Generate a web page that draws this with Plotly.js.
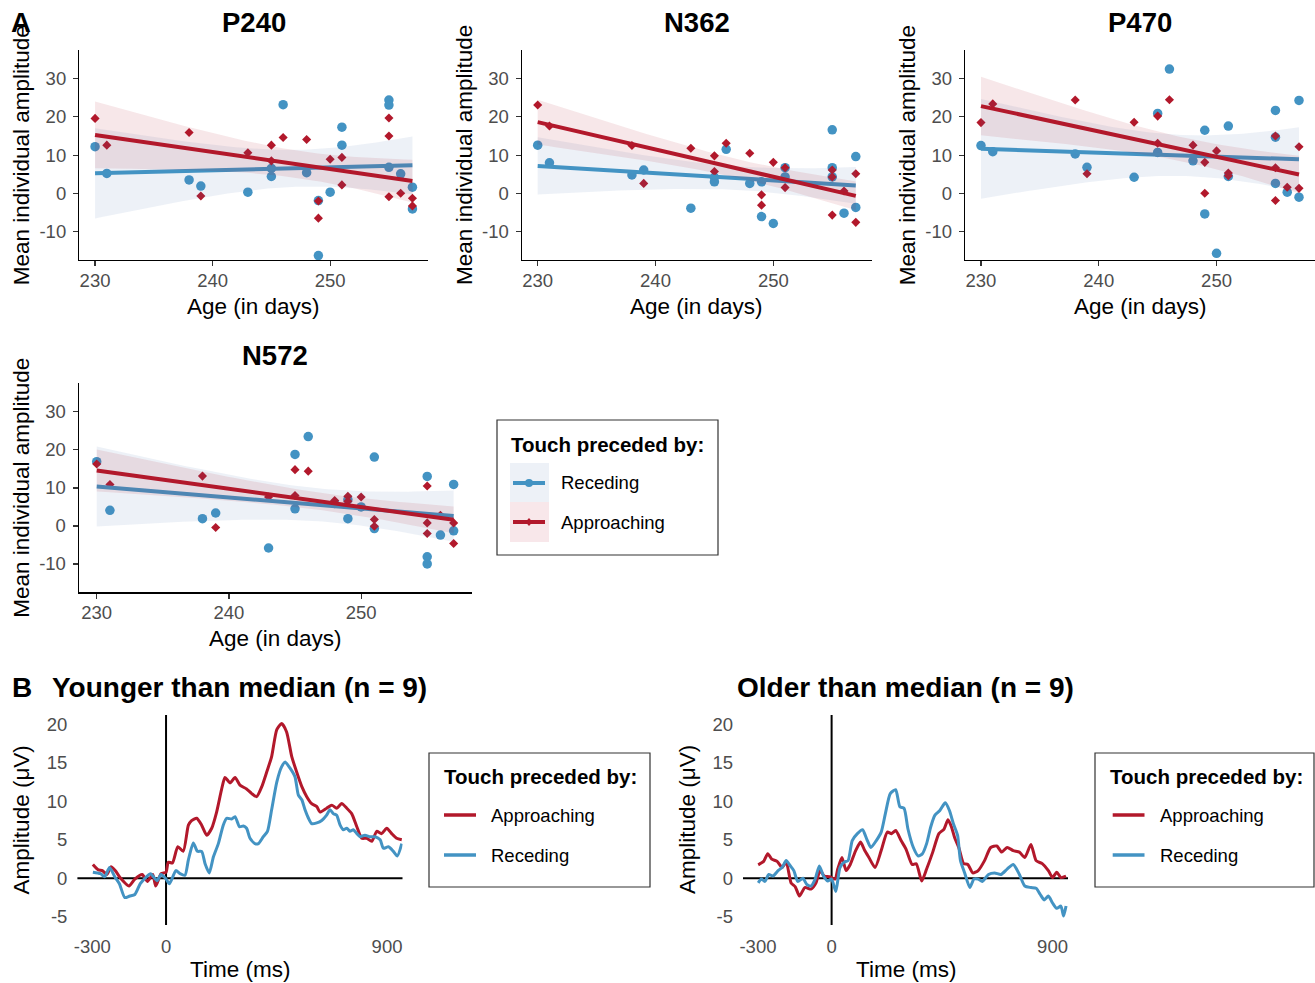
<!DOCTYPE html>
<html><head><meta charset="utf-8">
<script src="https://cdn.plot.ly/plotly-3.0.1.min.js"></script>
<style>html,body{margin:0;padding:0;background:#fff}#chart{width:1315px;height:983px}</style>
</head><body><div id="chart"></div>
<script>
// ---------------- DATA ----------------
const ages = [230,231,238,239,243,245,245,246,248,249,249,250,251,251,255,255,255,256,257,257];
const components = ['P240','N362','P470','N572'];

const p240Receding   = [12.2,5.2,3.5,1.9,0.3,6.5,4.4,23.2,5.4,-1.9,-16.3,0.3,17.3,12.6,24.4,23.1,6.8,5.1,1.6,-4.1];
const p240Approaching= [19.6,12.6,15.9,-0.7,10.6,12.6,8.5,14.6,14.1,-2.0,-6.5,8.9,9.4,2.2,19.7,15.0,-0.9,0.0,-1.3,-3.3];

const n362Receding   = [12.6,8.0,4.8,6.1,-3.9,4.2,3.0,11.5,2.6,3.0,-6.1,-7.9,6.7,4.3,16.6,6.7,4.3,-5.2,9.6,-3.7];
const n362Approaching= [23.1,17.6,12.5,2.6,11.8,9.8,5.7,13.1,10.5,-0.4,-3.1,8.1,6.7,1.5,6.1,4.3,-5.7,0.6,5.1,-7.6];

const p470Receding   = [12.5,10.9,10.3,6.8,4.2,20.9,10.7,32.5,8.5,16.5,-5.4,-15.7,17.6,4.4,21.7,14.7,2.6,0.3,24.3,-1.0];
const p470Approaching= [18.5,23.4,24.4,5.1,18.6,20.2,13.1,24.5,12.6,8.1,0.0,11.1,5.3,4.6,15.0,6.7,-1.9,1.6,12.2,1.3];

const n572Receding   = [16.9,4.1,1.9,3.4,-5.8,18.8,4.5,23.5,5.9,6.9,1.9,5.0,18.1,-0.7,13.0,-8.1,-10.0,-2.4,10.9,-1.3];
const n572Approaching= [16.3,10.9,13.1,-0.4,7.6,14.8,8.0,14.4,6.7,7.8,6.5,7.6,1.7,-0.1,10.5,0.8,-2.0,2.8,0.8,-4.6];

const ageTicks = [230,240,250];
const ageTickText = ['230','240','250'];
const ampTicks = [-10,0,10,20,30];
const ampTickText = ['-10','0','10','20','30'];

// ERP waveforms (panel B)
const youngApprT = [-298,-276,-259,-241,-224,-207,-182,-151,-127,-97,-76,-54,-42,-20,0,9,26,48,70,91,104,125,145,166,186,206,226,240,261,281,301,328,349,369,390,410,430,451,471,491,512,532,553,573,593,614,627,654,675,695,715,736,756,777,797,817,838,858,878,899,919,939,960];
const youngApprV = [1.8,1.1,1.0,0.5,1.5,1.0,-0.1,-1.0,-0.1,0.5,-0.4,0.5,-1.0,0.6,0.8,2.1,2.0,4.1,3.5,6.9,7.5,7.8,6.9,5.6,6.5,8.6,11.5,13.1,12.4,13.1,12.1,11.6,11.0,10.6,11.9,13.8,15.8,19.3,20.1,19.0,15.8,13.8,11.9,10.6,9.7,9.3,8.6,9.1,9.5,9.1,9.7,9.1,8.4,6.7,5.2,5.2,4.8,6.1,5.8,6.5,5.8,5.2,5.0];
const youngRecT  = [-298,-267,-250,-230,-207,-190,-168,-148,-127,-105,-80,-63,-37,-20,0,14,40,57,77,91,111,128,145,159,176,193,213,233,247,267,281,299,315,328,342,362,376,396,413,430,451,471,485,505,525,539,553,566,580,593,614,634,654,668,681,695,709,722,736,749,763,777,790,810,831,851,872,885,906,926,942,960];
const youngRecV  = [0.8,0.6,0.2,1.4,0.1,-0.7,-2.5,-2.3,-2.1,-0.7,0.2,0.6,-0.3,0.5,-0.1,-0.7,1.0,0.6,0.4,2.4,4.6,3.5,3.5,1.9,0.7,2.8,4.5,6.9,7.8,7.7,8.0,6.7,6.8,6.5,5.2,4.5,4.5,5.4,6.1,8.9,12.5,14.5,15.1,14.3,13.2,10.8,10.2,8.9,7.8,7.1,7.2,7.5,8.2,8.9,8.4,8.2,6.9,6.3,6.5,6.1,6.3,5.8,5.4,5.6,5.4,5.4,5.0,3.9,4.1,3.5,2.9,4.5];
const oldApprT   = [-299,-277,-260,-244,-222,-202,-185,-165,-148,-131,-109,-84,-64,-47,-30,-8,14,25,42,59,76,98,118,135,152,177,202,227,244,261,283,303,328,345,367,387,412,437,458,474,488,501,518,538,555,575,597,623,648,673,693,715,740,765,787,812,833,858,883,900,917,934,955];
const oldApprV   = [1.75,2.2,3.2,2.5,2.2,1.4,2.1,-0.6,-1.1,-2.3,-1.2,-1.4,-0.6,1.0,0.3,0.2,-0.1,1.2,2.7,1.0,1.8,3.6,4.7,3.6,2.7,1.4,3.6,6.0,5.8,6.2,4.9,3.8,1.8,1.9,-0.35,1.2,3.4,5.8,6.4,7.6,6.7,5.3,4.0,1.9,1.8,0.7,1.0,2.3,4.0,4.2,3.4,4.0,3.6,3.4,2.7,4.4,2.3,1.9,1.0,0.1,0.8,0.1,0.3];
const oldRecT    = [-299,-286,-272,-256,-239,-218,-202,-185,-168,-154,-138,-117,-101,-84,-67,-50,-33,-16,0,17,34,51,67,84,105,126,143,160,182,202,219,239,261,278,295,311,333,353,370,387,404,421,441,463,480,496,513,525,542,563,580,597,614,639,664,690,715,740,765,787,812,833,850,866,883,900,917,934,945,955];
const oldRecV    = [-0.6,-0.1,-0.4,0.5,0.3,1.0,1.4,2.3,1.6,1.0,-0.4,0,-0.8,-1.0,-0.1,1.6,0.3,-0.35,-0.1,-1.7,1.4,2.1,2.3,4.9,5.8,6.3,5.1,4.0,4.9,6.0,8.4,11.0,11.5,9.3,9.1,6.4,4.0,2.9,3.2,4.5,6.7,8.2,8.8,9.8,8.8,7.1,5.6,2.3,0.7,-1.2,-0.1,-0.1,-0.4,0.5,0.7,0.5,1.2,1.8,0.5,-1.0,-1.2,-1.3,-2.1,-2.8,-2.3,-3.2,-3.9,-3.6,-4.9,-3.6];

const timeTicks = [-300,0,900];
const timeTickText = ['-300','0','900'];
const uvTicks = [-5,0,5,10,15,20];
const uvTickText = ['-5','0','5','10','15','20'];

// ---------------- STYLE ----------------
const W = 1315, H = 983;
const FONT = 'Liberation Sans, Arial, Helvetica, sans-serif';
const RED = '#b2182b', BLUE = '#4393c3';
const RIB_BLUE = 'rgba(75,115,175,0.10)', RIB_RED = 'rgba(178,24,43,0.10)';
const fx = p => p / W, fy = p => 1 - p / H;

// linear fit with 95% confidence band (as geom_smooth(method = "lm"))
const T975_DF18 = 2.100922;
function lmBand(x, y) {
  const n = x.length;
  const mx = x.reduce((a,b)=>a+b,0)/n, my = y.reduce((a,b)=>a+b,0)/n;
  let sxx=0, sxy=0;
  for (let i=0;i<n;i++){ sxx+=(x[i]-mx)**2; sxy+=(x[i]-mx)*(y[i]-my); }
  const b = sxy/sxx, a = my - b*mx;
  let sse=0; for (let i=0;i<n;i++){ sse+=(y[i]-a-b*x[i])**2; }
  const s = Math.sqrt(sse/(n-2));
  const lo = Math.min(...x), hi = Math.max(...x);
  const xs=[], fit=[], up=[], dn=[];
  for (let k=0;k<80;k++){
    const xv = lo + (hi-lo)*k/79;
    const f = a + b*xv;
    const se = s*Math.sqrt(1/n + (xv-mx)**2/sxx);
    xs.push(xv); fit.push(f); up.push(f+T975_DF18*se); dn.push(f-T975_DF18*se);
  }
  return {xs, fit, up, dn};
}

const panelData = [
  [p240Receding, p240Approaching],
  [n362Receding, n362Approaching],
  [p470Receding, p470Approaching],
  [n572Receding, n572Approaching]
];
// panel boxes in pixels: [left, right, top, bottom]
const boxesA = [[79.3,428.3,50,260],[521.9,871.7,50,260],[965.2,1314.9,50,260],[79,471.5,383.3,592.3]];
const ageRange = [228.66, 258.35], ampRange = [-17.45, 37.5];

const traces = [];
const layout = {
  width: W, height: H, autosize: false,
  margin: {l:0, r:0, t:0, b:0},
  paper_bgcolor: '#fff', plot_bgcolor: 'rgba(0,0,0,0)',
  showlegend: false,
  font: {family: FONT, color: '#000'},
  annotations: [], shapes: []
};

function ann(text, x, y, size, opts) {
  layout.annotations.push(Object.assign({
    text, x: fx(x), y: fy(y), xref: 'paper', yref: 'paper', showarrow: false,
    xanchor: 'center', yanchor: 'middle', font: {family: FONT, size, color: '#000'}
  }, opts || {}));
}

panelData.forEach((pair, i) => {
  const k = i + 1, xa = 'x' + (k === 1 ? '' : k), ya = 'y' + (k === 1 ? '' : k);
  const [rec, appr] = pair;
  traces.push({type:'scatter', mode:'markers', x: ages, y: rec, xaxis: xa, yaxis: ya,
    marker:{symbol:'circle', size:9.5, color:BLUE}, hoverinfo:'skip'});
  traces.push({type:'scatter', mode:'markers', x: ages, y: appr, xaxis: xa, yaxis: ya,
    marker:{symbol:'diamond', size:7, color:RED}, hoverinfo:'skip'});
  [[rec, BLUE, RIB_BLUE], [appr, RED, RIB_RED]].forEach(([vals, col, rib]) => {
    const m = lmBand(ages, vals);
    traces.push({type:'scatter', mode:'lines', xaxis: xa, yaxis: ya,
      x: m.xs.concat(m.xs.slice().reverse()), y: m.up.concat(m.dn.slice().reverse()),
      fill:'toself', fillcolor: rib, line:{width:0, color:'rgba(0,0,0,0)'}, hoverinfo:'skip'});
    traces.push({type:'scatter', mode:'lines', xaxis: xa, yaxis: ya, x: m.xs, y: m.fit,
      line:{color: col, width: 4}, hoverinfo:'skip'});
  });
  const [l, r, t, b] = boxesA[i];
  const common = {showgrid:false, zeroline:false, showline:true, linecolor:'#000', linewidth:1.4,
    ticks:'outside', ticklen:5, tickwidth:1.2, tickcolor:'#333', fixedrange:true,
    tickfont:{family:FONT, size:18.5, color:'#4d4d4d'}};
  layout['xaxis' + (k===1?'':k)] = Object.assign({}, common, {domain:[fx(l), fx(r)], range: ageRange,
    tickmode:'array', tickvals: ageTicks, ticktext: ageTickText, anchor: ya, ticklabelstandoff: -2});
  layout['yaxis' + (k===1?'':k)] = Object.assign({}, common, {domain:[fy(b), fy(t)], range: ampRange,
    tickmode:'array', tickvals: ampTicks, ticktext: ampTickText, anchor: xa, ticklabelstandoff: 3});
  const cx = (l + r) / 2;
  ann('<b>' + components[i] + '</b>', cx, t - 28, 27.5);
  ann('Age (in days)', cx, b + 46, 22.5);
  ann('Mean individual amplitude', l - 57, (t + b) / 2, 22.5, {textangle: -90});
});
ann('<b>A</b>', 21, 22, 27.5);

// ---- Panel B ----
const boxesB = [[77.4,402.5,715,925],[743,1068,715,925]];
const timeRange = [-361, 963], uvRange = [-6.06, 21.2];
const erps = [
  [[youngApprT, youngApprV], [youngRecT, youngRecV]],
  [[oldApprT, oldApprV], [oldRecT, oldRecV]]
];
const bTitles = ['Younger than median (n = 9)', 'Older than median (n = 9)'];
erps.forEach((pair, j) => {
  const k = 5 + j, xa = 'x' + k, ya = 'y' + k;
  const [l, r, t, b] = boxesB[j];
  layout.shapes.push({type:'line', xref: xa + ' domain', yref: ya, x0:0, x1:1, y0:0, y1:0,
    line:{color:'#000', width:2}, layer:'below'});
  layout.shapes.push({type:'line', xref: xa, yref: ya + ' domain', x0:0, x1:0, y0:0, y1:1,
    line:{color:'#000', width:2}, layer:'below'});
  [[pair[0], RED], [pair[1], BLUE]].forEach(([d, col]) => {
    traces.push({type:'scatter', mode:'lines', x: d[0], y: d[1], xaxis: xa, yaxis: ya,
      line:{color: col, width: 3, shape:'spline', smoothing:0.6}, hoverinfo:'skip'});
  });
  const common = {showgrid:false, zeroline:false, showline:false, ticks:'', fixedrange:true,
    tickfont:{family:FONT, size:18.5, color:'#4d4d4d'}};
  layout['xaxis' + k] = Object.assign({}, common, {domain:[fx(l), fx(r)], range: timeRange,
    tickmode:'array', tickvals: timeTicks, ticktext: timeTickText, anchor: ya, ticklabelstandoff: 8});
  layout['yaxis' + k] = Object.assign({}, common, {domain:[fy(b), fy(t)], range: uvRange,
    tickmode:'array', tickvals: uvTicks, ticktext: uvTickText, anchor: xa, ticklabelstandoff: 9});
  const cx = (l + r) / 2;
  ann('<b>' + bTitles[j] + '</b>', cx, 687, 28);
  ann('Time (ms)', cx, 969, 22.5);
  ann('Amplitude (μV)', l - 56, (t + b) / 2, 22.5, {textangle: -90});
});
ann('<b>B</b>', 22, 687, 28);

// ---- Legends (drawn manually) ----
function rect(x0, y0, x1, y1, fill, lineCol, lw) {
  layout.shapes.push({type:'rect', xref:'paper', yref:'paper', x0:fx(x0), x1:fx(x1), y0:fy(y0), y1:fy(y1),
    fillcolor: fill, line:{color: lineCol || 'rgba(0,0,0,0)', width: lw || 0}, layer:'above'});
}
function seg(x0, x1, y, col, w) {
  layout.shapes.push({type:'line', xref:'paper', yref:'paper', x0:fx(x0), x1:fx(x1), y0:fy(y), y1:fy(y),
    line:{color: col, width: w}, layer:'above'});
}
// Legend A
rect(497, 420, 718, 555, '#fff', '#333', 1.2);
rect(510, 463, 549, 502, 'rgb(237,241,247)');
rect(510, 502, 549, 542, 'rgb(248,231,234)');
seg(513, 545, 483, BLUE, 4);
layout.shapes.push({type:'circle', xref:'paper', yref:'paper', x0:fx(525), x1:fx(533), y0:fy(487), y1:fy(479),
  fillcolor: BLUE, line:{width:0}, layer:'above'});
seg(513, 545, 522, RED, 4);
layout.shapes.push({type:'path', xref:'paper', yref:'paper',
  path: 'M ' + fx(529) + ',' + fy(518) + ' L ' + fx(532.5) + ',' + fy(522) + ' L ' + fx(529) + ',' + fy(526) + ' L ' + fx(525.5) + ',' + fy(522) + ' Z',
  fillcolor: RED, line:{width:0}, layer:'above'});
ann('<b>Touch preceded by:</b>', 509, 444, 20.5, {xanchor:'left'});
ann('Receding', 559, 483, 18.5, {xanchor:'left'});
ann('Approaching', 559, 522, 18.5, {xanchor:'left'});

// Legends B
[[429, 650, 441.5, 444, 476, 489], [1095, 1314, 1107.5, 1112.7, 1144.5, 1157.7]].forEach(([bl, br, tx, kl, kr, lx]) => {
  rect(bl, 753, br, 887, '#fff', '#333', 1.2);
  seg(kl, kr, 815, RED, 3.5);
  seg(kl, kr, 855, BLUE, 3.5);
  ann('<b>Touch preceded by:</b>', tx, 776, 20.5, {xanchor:'left'});
  ann('Approaching', lx, 815, 18.5, {xanchor:'left'});
  ann('Receding', lx, 855, 18.5, {xanchor:'left'});
});

Plotly.newPlot('chart', traces, layout, {displayModeBar:false, staticPlot:true});
</script>
</body></html>
